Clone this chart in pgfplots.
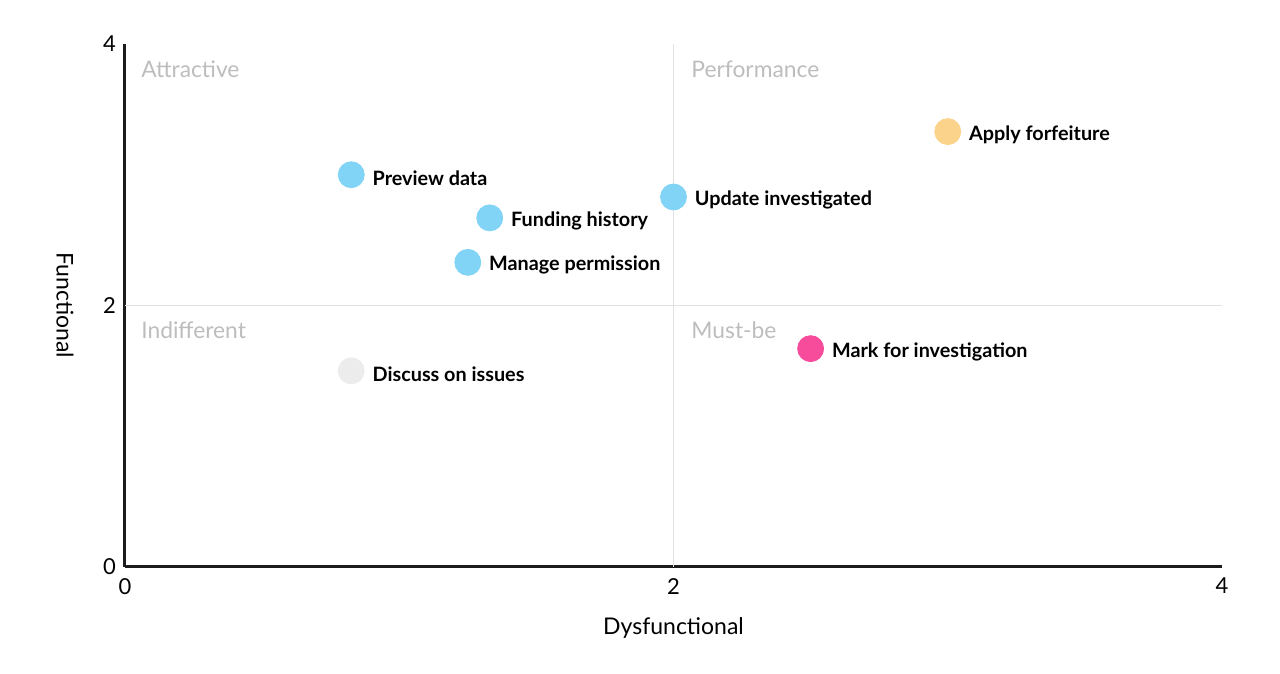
\documentclass[border=0pt]{standalone}
\usepackage{fontspec}
\setmainfont{Lato}
\usepackage{pgfplots}
\pgfplotsset{compat=1.18}
\definecolor{cblue}{HTML}{81D4F5}
\definecolor{corange}{HTML}{FCD38A}
\definecolor{cpink}{HTML}{F64C9B}
\definecolor{cgray}{HTML}{ECECEC}
\definecolor{qgray}{HTML}{BDBDBD}
\definecolor{gridc}{HTML}{E2E2E2}
\definecolor{axc}{HTML}{1C1C1E}
\begin{document}
\begin{tikzpicture}
\begin{axis}[
  scale only axis,
  width=548.5pt, height=261.5pt,
  xmin=0, xmax=4, ymin=0, ymax=4,
  xtick={0,2,4}, ytick={0,2,4},
  axis lines=left,
  axis line style={-, line width=1.5pt, color=axc},
  major tick length=0pt,
  /pgf/number format/assume math mode=true,
  tick label style={font=\fontsize{11}{13}\selectfont, text=black},
  xticklabel style={yshift=-2pt},
  yticklabel style={xshift=-1pt},
  xlabel={Dysfunctional},
  ylabel={Functional},
  label style={font=\fontsize{11.5}{13}\selectfont},
  xlabel style={at={(axis description cs:0.5,-0.1109)}, anchor=center, yshift=-1.5pt},
  ylabel style={at={(axis description cs:-0.0547,0.5)}, anchor=center, rotate=180},
  clip=false,
  nodes near coords,
  point meta=explicit symbolic,
  every node near coord/.append style={anchor=west, inner sep=0pt, xshift=10.5pt, yshift=-1.5pt, font=\fontsize{9.9}{12}\selectfont\bfseries, text=black},
]
\draw[gridc, line width=0.6pt] (axis cs:2,0) -- (axis cs:2,4);
\draw[gridc, line width=0.6pt] (axis cs:0,2) -- (axis cs:4,2);
\node[anchor=west, inner sep=0pt, text=qgray, font=\fontsize{11.4}{13}\selectfont] at (axis cs:0.058,3.81) {Attractive};
\node[anchor=west, inner sep=0pt, text=qgray, font=\fontsize{11.4}{13}\selectfont] at (axis cs:2.064,3.81) {Performance};
\node[anchor=west, inner sep=0pt, text=qgray, font=\fontsize{11.4}{13}\selectfont] at (axis cs:0.058,1.81) {Indifferent};
\node[anchor=west, inner sep=0pt, text=qgray, font=\fontsize{11.4}{13}\selectfont] at (axis cs:2.064,1.81) {Must-be};
\addplot[only marks, mark=*, mark size=6.5pt, mark options={fill=cblue, draw=cblue}] coordinates {
  (0.825,3.0) [Preview data]
  (1.33,2.67) [Funding history]
  (1.25,2.33) [Manage permission]
  (2.0,2.83) [Update investigated]
};
\addplot[only marks, mark=*, mark size=6.5pt, mark options={fill=corange, draw=corange}] coordinates {
  (3.0,3.33) [Apply forfeiture]
};
\addplot[only marks, mark=*, mark size=6.5pt, mark options={fill=cpink, draw=cpink}] coordinates {
  (2.5,1.67) [Mark for investigation]
};
\addplot[only marks, mark=*, mark size=6.5pt, mark options={fill=cgray, draw=cgray}] coordinates {
  (0.825,1.5) [Discuss on issues]
};
\end{axis}
\path[use as bounding box] ([shift={(-62.5pt,-53.5pt)}]current axis.south west) rectangle ([shift={(577.5pt,283.5pt)}]current axis.south west);
\end{tikzpicture}
\end{document}
